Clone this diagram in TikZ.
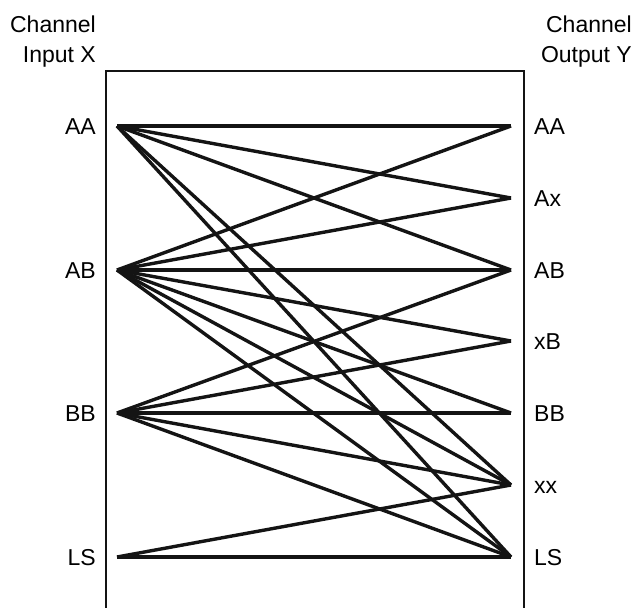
\documentclass[tikz,border=0pt]{standalone}
\usepackage{fontspec}
\setmainfont{Liberation Sans}
\begin{document}
\begin{tikzpicture}[x=1pt,y=-1pt,
  lab/.style={inner sep=0pt, font=\fontsize{23}{27}\selectfont},
  edge/.style={line width=3.4pt, line cap=butt, black!92},
  frame/.style={line width=2.7pt, black!92}]
\useasboundingbox (0,0) rectangle (638,608);
% titles
\node[lab, anchor=base east] (tin1) at (96,32) {Channel};
\node[lab, anchor=base east] (tin2) at (96,62) {Input X};
\node[lab, anchor=base east] (tout1) at (632,32) {Channel};
\node[lab, anchor=base east] (tout2) at (632,62) {Output Y};
% frame
\draw[frame] (106,620) -- (106,71) -- (524,71) -- (524,620);
% input labels and points
\foreach \n/\y in {AA/126, AB/270, BB/413, LS/557}{
  \node[lab, anchor=base east] (lx\n) at (96,\y+8) {\n};
  \coordinate (i\n) at (117,\y);
}
% output labels and points
\foreach \n/\y in {AA/126, Ax/198, AB/270, xB/341, BB/413, xx/485, LS/557}{
  \node[lab, anchor=base west] (ly\n) at (534,\y+8) {\n};
  \coordinate (o\n) at (511,\y);
}
% transitions
\foreach \a/\b in {AA/AA, AA/Ax, AA/AB, AA/xx, AA/LS,
                   AB/AA, AB/Ax, AB/AB, AB/xB, AB/BB, AB/xx, AB/LS,
                   BB/AB, BB/xB, BB/BB, BB/xx, BB/LS,
                   LS/xx, LS/LS}{
  \draw[edge] (i\a) -- (o\b);
}
\end{tikzpicture}
\end{document}
